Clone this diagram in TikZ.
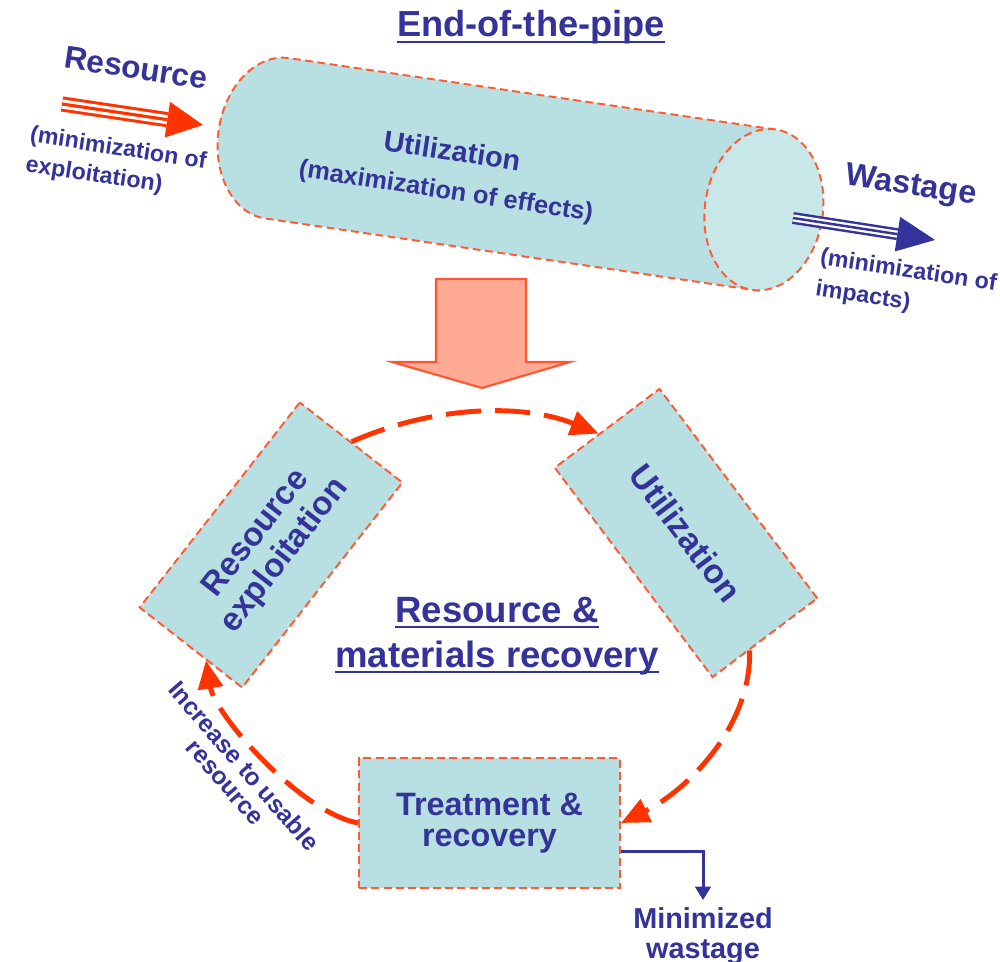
\documentclass[tikz,border=0pt]{standalone}
\usepackage{fontspec}
\setmainfont{Liberation Sans}
\usetikzlibrary{arrows.meta,calc}

\definecolor{inkblue}{RGB}{51,51,153}
\definecolor{boxfill}{RGB}{184,223,225}
\definecolor{capfill}{RGB}{200,231,233}
\definecolor{flowred}{RGB}{255,51,0}
\definecolor{edgered}{RGB}{255,90,50}
\definecolor{bigfill}{RGB}{255,170,148}
\definecolor{bigedge}{RGB}{255,85,51}

\newcommand{\pfont}[2]{\bfseries\fontsize{#1}{#2}\selectfont}
\newcommand{\ultext}[1]{\setbox0\hbox{#1}\rlap{\rule[-1.7pt]{\wd0}{0.6pt}}\box0}

\begin{document}
\begin{tikzpicture}[x=0.01cm, y=-0.01cm,
    every node/.style={text=inkblue},
    procbox/.style={draw=edgered, line width=0.55pt, dash pattern=on 2.3pt off 1.2pt, fill=boxfill, align=center, inner sep=0pt},
    pipeline/.style={draw=edgered, line width=0.55pt, dash pattern=on 2.2pt off 1.3pt},
    cycleflow/.style={draw=flowred, line width=1.4pt, dash pattern=on 10pt off 4pt, -{Triangle[length=8pt, width=7pt]}},
    resshaft/.style={draw=flowred, line width=4.3pt, postaction={draw=white, line width=2.6pt}, postaction={draw=flowred, line width=0.9pt}},
    wasteshaft/.style={draw=inkblue, line width=3.4pt, postaction={draw=white, line width=2pt}, postaction={draw=inkblue, line width=0.7pt}},
    wasteout/.style={draw=inkblue, line width=0.85pt, -{Triangle[length=3.8pt, width=4.4pt]}}]
        \useasboundingbox (0, 0) rectangle (1000, 962);

        \begin{scope}[shift={(520.5, 174)}, rotate=-8.35]
            \fill[boxfill] (-246, -81) -- (246, -81) -- (246, 81) -- (-246, 81) arc[start angle=270, end angle=90, x radius=0.59cm, y radius=0.81cm] -- cycle;
            \draw[pipeline] (246, -81) -- (-246, -81) arc[start angle=90, end angle=270, x radius=0.59cm, y radius=0.81cm] -- (246, 81);
            \draw[pipeline, fill=capfill] (246, 0) ellipse[x radius=0.59cm, y radius=0.81cm];
        \end{scope}

        \path (531, 37)   node[anchor=base, font=\pfont{10.3}{12}] (title) {\ultext{End-of-the-pipe}};
        \path (449, 172)  node[rotate=-8.6, align=center, font=\pfont{7.2}{11}] (pipetext) {{\fontsize{8.2}{11}\selectfont Utilization}\\(maximization of effects)};
        \path (136, 68)   node[rotate=-8.5, font=\pfont{9}{10}] (resword) {Resource};
        \path (116, 164)  node[rotate=-8.7, align=left, font=\pfont{6.6}{8.5}] (resnote) {(minimization of\\exploitation)};
        \path (911, 187)  node[rotate=-8.7, font=\pfont{9.2}{10}] (wasteword) {Wastage};
        \path (906, 287)  node[rotate=-8.6, align=left, font=\pfont{6.6}{9}] (wastenote) {(minimization of\\impacts)};

        \coordinate (resin) at (62, 104);
        \coordinate (restip) at (203, 125);
        \coordinate (resbase) at ($(restip)!0.36cm!(resin)$);
        \draw[resshaft] (resin) -- (resbase);
        \fill[flowred] (restip) -- ($(resbase)!0.18cm!90:(restip)$) -- ($(resbase)!0.18cm!-90:(restip)$) -- cycle;

        \coordinate (wastein) at (793, 218);
        \coordinate (wastetip) at (935, 240);
        \coordinate (wastebase) at ($(wastetip)!0.38cm!(wastein)$);
        \draw[wasteshaft] (wastein) -- (wastebase);
        \fill[inkblue] (wastetip) -- ($(wastebase)!0.175cm!90:(wastetip)$) -- ($(wastebase)!0.175cm!-90:(wastetip)$) -- cycle;

        \draw[draw=bigedge, fill=bigfill, line width=0.6pt] (436, 279) -- (526, 279) -- (526, 362) -- (570, 362) -- (482, 388) -- (392, 362) -- (436, 362) -- cycle;

        \path (271, 545)   node[procbox, minimum width=2.6cm, minimum height=1.3cm, rotate=52, font=\pfont{9.4}{10.2}] (resexp) {Resource\\exploitation};
        \path (686, 533)   node[procbox, minimum width=2.62cm, minimum height=1.31cm, rotate=-53, font=\pfont{9.6}{10}] (util) {Utilization};
        \path (489.5, 823) node[procbox, minimum width=2.61cm, minimum height=1.3cm, font=\pfont{9.2}{8.9}] (treat) {Treatment \&\\recovery};
        \path (497, 636)   node[align=center, font=\pfont{10.4}{12.8}] (recov) {\ultext{Resource \&}\\\ultext{materials recovery}};
        \path (235, 774)   node[rotate=-49, align=center, font=\pfont{7}{7}] (gainnote) {Increase to usable\\resource};
        \path (703, 900)   node[anchor=north, align=center, inner sep=2pt, font=\pfont{8.2}{8.6}] (minw) {Minimized\\wastage};

        \draw[cycleflow] (resexp.east) .. controls (430, 407) and (519, 402) .. ($(util.west)!0.15!(util.south west)$);
        \draw[cycleflow] ($(util.east)!0.3!(util.south east)$) .. controls (752, 725) and (688, 790) .. (treat.east);
        \draw[cycleflow] (treat.west) .. controls (300, 812) and (215, 715) .. ($(resexp.west)!0.3!(resexp.south west)$);

        \coordinate (treatout) at ($(treat.east)+(0, 29)$);
        \draw[wasteout] (treatout) -| (minw.north);
    \end{tikzpicture}
\end{document}
